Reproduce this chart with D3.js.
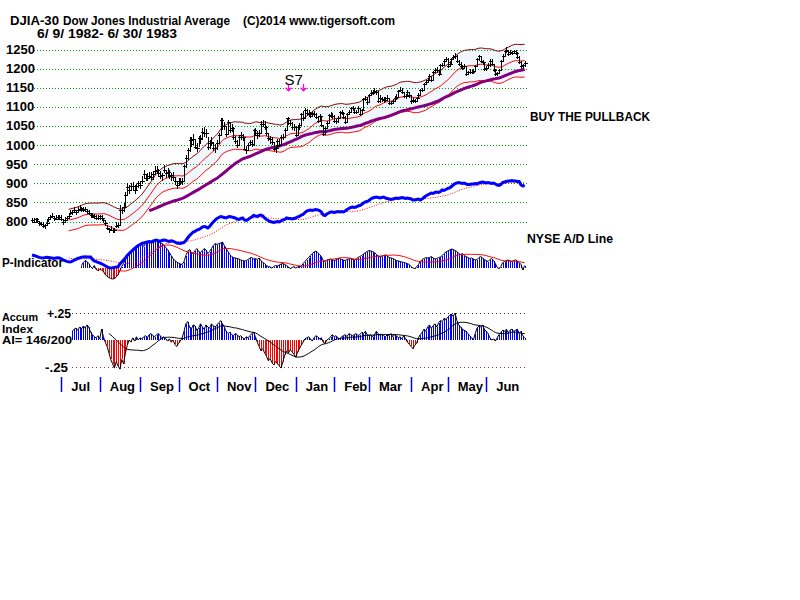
<!DOCTYPE html>
<html><head><meta charset="utf-8">
<script src="https://cdn.jsdelivr.net/npm/d3@7"></script>
<style>body{margin:0;background:#fff}</style>
</head><body>
<svg id="c" width="800" height="600"></svg>
<script>
// ---------- DATA (DJIA daily, 6/9/1982 - 6/30/1983, estimated from chart) ----------
const closes = [
803,800,806,801,797,793,789,791,797,806,812,815,810,807,812,811,
806,800,803,808,815,822,826,829,826,830,833,836,831,833,827,822,818,812,815,809,808,
814,810,803,795,784,780,779,778,777,788,792,831,829,837,869,891,883,892,892,883,892,901,
895,907,925,913,918,920,916,924,932,935,928,920,921,934,928,930,919,922,916,906,896,
907,903,907,944,965,986,1012,1004,1015,996,993,1019,1015,1034,1032,1031,995,1006,1009,993,992,
1006,1027,1065,1051,1051,1028,1060,1039,1045,1021,1011,1000,1021,1027,1021,990,986,1000,1007,1002,1039,
1031,1026,1031,1056,1056,1048,1031,1018,1015,1009,990,991,1011,1001,1021,1020,1039,1070,1058,1059,1046,1047,
1027,1046,1053,1082,1070,1092,1083,1082,1077,1083,1080,1074,1064,1075,1052,1030,1045,1059,1078,1077,1076,
1064,1063,1072,1087,1085,1073,1061,1082,1087,1096,1097,1086,1086,1097,1080,1092,1121,1120,1113,
1130,1135,1138,1141,1138,1114,1124,1120,1117,1119,1122,1110,1110,1116,1124,1126,1141,1145,1140,1129,1128,1139,1130,
1114,1117,1116,1124,1131,1144,1145,1160,1165,1171,1181,1170,1191,1196,1196,1187,1209,1210,1219,1226,
1208,1211,1225,1231,1233,1219,1213,1208,1202,1208,1186,1190,1192,1192,1193,1207,1224,1232,1221,1216,1200,
1201,1210,1221,1213,1196,1185,1188,1196,1219,1234,1246,1248,1239,1244,1240,1245,1241,1231,1217,1206,1209,1214];
const highs = [
809,808,810,810,802,800,799,794,805,812,818,823,814,816,817,818,
816,803,811,814,821,830,830,838,831,837,843,839,839,839,833,830,822,821,820,816,818,
817,818,809,801,792,784,788,783,784,798,795,844,839,848,878,900,896,902,903,896,898,905,
905,920,935,924,926,930,930,932,944,944,938,933,927,948,936,941,935,927,929,916,906,
915,913,914,948,973,992,1021,1020,1028,1012,1005,1025,1027,1045,1047,1041,1020,1014,1022,1006,1003,
1012,1031,1070,1070,1060,1050,1065,1060,1055,1046,1025,1013,1027,1035,1030,1020,997,1006,1013,1013,1042,
1045,1037,1040,1062,1066,1063,1050,1032,1024,1020,1009,1000,1017,1015,1026,1030,1044,1072,1073,1066,1060,1056,
1050,1049,1057,1085,1090,1096,1095,1091,1087,1088,1090,1084,1075,1080,1076,1050,1048,1063,1080,1087,1084,
1079,1069,1076,1090,1093,1087,1075,1085,1092,1100,1103,1097,1091,1102,1098,1095,1124,1128,1125,
1134,1143,1144,1150,1145,1142,1130,1127,1125,1125,1130,1123,1115,1121,1128,1133,1145,1152,1148,1140,1134,1143,1140,
1130,1123,1121,1127,1137,1147,1150,1163,1171,1176,1186,1180,1193,1202,1204,1196,1211,1214,1224,1230,
1228,1216,1228,1236,1240,1235,1222,1216,1210,1212,1204,1194,1198,1196,1198,1210,1227,1236,1233,1223,1215,
1206,1214,1226,1224,1212,1198,1192,1200,1222,1237,1250,1256,1250,1248,1247,1249,1250,1243,1232,1220,1213,1220];
const lows = [
796,795,797,797,789,787,784,781,791,799,805,810,801,803,804,805,
801,790,797,801,808,817,817,825,818,824,828,826,825,826,820,817,809,808,807,803,803,
804,804,796,788,779,771,775,770,771,783,782,790,819,826,836,868,873,880,881,871,879,888,
884,899,911,907,905,910,908,908,922,924,917,912,907,928,915,920,911,906,906,895,885,
895,895,896,906,940,962,983,994,999,989,982,995,1004,1013,1022,1018,988,990,998,985,980,
988,1003,1025,1040,1039,1020,1028,1032,1033,1014,1002,992,997,1014,1011,986,976,985,997,994,998,
1025,1015,1020,1028,1046,1040,1025,1010,1002,1001,984,980,990,996,999,1012,1020,1039,1052,1050,1040,1038,
1021,1024,1040,1053,1064,1070,1078,1074,1070,1075,1073,1068,1058,1063,1047,1025,1028,1042,1058,1070,1068,
1058,1056,1058,1070,1078,1069,1056,1059,1080,1083,1090,1082,1080,1084,1076,1078,1092,1114,1106,
1112,1128,1131,1134,1131,1109,1110,1113,1111,1112,1116,1105,1104,1108,1116,1119,1125,1138,1134,1122,1121,1127,1124,
1108,1110,1110,1113,1121,1130,1139,1143,1157,1163,1170,1164,1168,1189,1188,1180,1187,1203,1207,1218,
1202,1204,1210,1222,1226,1214,1207,1202,1196,1200,1181,1182,1185,1186,1187,1193,1205,1220,1215,1210,1194,
1193,1198,1205,1207,1190,1180,1181,1188,1196,1217,1230,1240,1234,1236,1235,1237,1236,1225,1212,1200,1201,1204];
// NYSE advance/decline line (cumulative, arbitrary base)
const adLine = [
1000,950,900,820,760,720,700,740,780,760,720,690,660,700,720,700,
620,520,430,360,320,300,380,480,560,650,720,780,800,820,790,810,800,560,400,330,260,
200,120,20,-80,-180,-260,-300,-280,-240,-200,-180,100,300,500,700,950,1150,1300,1500,1650,1800,1950,
2050,2150,2200,2250,2300,2350,2300,2380,2450,2500,2420,2380,2450,2500,2480,2400,2350,2420,2380,2300,2200,
2180,2150,2200,2250,2450,2700,2950,3100,3300,3350,3500,3550,3650,3800,3850,3800,3700,3850,4100,4300,4500,
4650,4750,4850,4800,4750,4700,4800,4850,4800,4750,4700,4600,4550,4650,4700,4500,4450,4550,4700,4800,4950,
4900,4850,4950,5000,4900,4700,4550,4450,4350,4300,4250,4300,4350,4300,4400,4500,4550,4700,4650,4650,4600,4650,
4700,4800,4850,5000,5050,5250,5400,5450,5500,5450,5500,5550,5500,5450,5300,5000,4950,5100,5200,5300,5300,
5250,5300,5350,5300,5350,5300,5400,5550,5650,5750,5800,5750,5800,5900,5950,6050,6200,6300,6350,
6450,6600,6700,6750,6800,6750,6700,6750,6800,6700,6650,6600,6550,6600,6650,6700,6650,6700,6750,6700,6650,6700,6650,
6600,6500,6500,6550,6600,6500,6600,6750,6900,7000,7100,7200,7150,7250,7300,7250,7350,7500,7450,7550,
7650,7700,7850,8000,8150,8200,8250,8200,8150,8200,8100,8050,8050,8100,8100,8150,8100,8200,8250,8300,8250,
8200,8250,8200,8150,8200,8100,8000,7950,8050,8250,8300,8350,8400,8400,8450,8400,8400,8350,8350,8000,7900,8000];
const _ = null;
const pIndicator = [
_,_,_,_,_,_,_,_,_,_,_,_,_,_,_,_,
_,_,_,_,_,_,_,_,_,_,_,20,50,70,60,40,10,-10,20,-20,-30,
-20,-25,-40,-70,-90,-100,-110,-115,-110,-95,-70,-30,10,40,80,120,150,165,180,200,190,215,
225,230,210,240,245,250,255,245,260,270,255,250,240,225,200,180,150,120,90,70,55,
45,35,30,60,120,160,180,150,140,170,190,160,150,170,190,175,140,160,190,220,240,
230,240,245,255,220,190,160,130,110,100,95,90,85,75,70,65,70,80,95,100,85,
90,80,95,70,50,40,20,10,5,-5,10,20,15,25,35,40,30,20,5,-10,0,10,
-5,5,15,10,40,60,80,100,120,140,155,165,150,130,110,70,60,75,80,85,80,
70,75,85,90,80,75,70,80,85,90,80,75,85,100,110,120,135,150,160,
170,165,160,150,130,115,105,110,120,125,115,100,95,90,80,70,65,60,55,50,45,40,30,
10,-5,-10,5,30,60,80,90,100,95,100,110,95,85,90,100,105,120,140,155,
165,175,185,180,170,160,140,130,140,120,110,100,90,95,85,75,80,100,110,95,80,
70,60,80,90,70,40,0,-10,10,50,60,70,75,65,60,70,75,65,50,30,-25,20];
const accumIndex = [
_,_,_,_,_,_,_,_,_,_,_,_,_,_,_,_,
_,_,_,_,_,_,0.08,0.10,0.11,0.09,0.12,0.10,0.13,0.11,0.14,0.12,0.07,0.05,0.03,0.02,0.04,
0.01,0.10,0.03,-0.02,-0.06,-0.12,-0.18,-0.22,-0.26,-0.20,-0.24,-0.27,-0.18,-0.22,-0.12,-0.05,0.00,-0.02,0.02,-0.01,0.03,0.00,
0.02,0.01,0.03,0.04,0.02,0.05,0.06,0.04,0.03,0.05,0.06,0.04,0.02,0.03,0.01,-0.01,0.01,-0.02,0.00,-0.04,-0.06,
-0.03,-0.01,0.02,0.08,0.15,0.17,0.12,0.10,0.14,0.13,0.09,0.11,0.15,0.12,0.10,0.14,0.12,0.11,0.15,0.13,0.12,
0.14,0.16,0.18,0.15,0.12,0.08,0.06,0.07,0.05,0.04,0.06,0.05,0.03,0.04,0.02,0.01,0.03,0.02,0.04,0.06,0.07,
0.03,-0.02,-0.06,-0.10,-0.08,-0.12,-0.15,-0.19,-0.17,-0.21,-0.23,-0.20,-0.22,-0.24,-0.26,-0.20,-0.14,-0.10,-0.12,-0.09,-0.11,-0.13,
-0.16,-0.11,-0.08,-0.05,-0.02,0.01,0.02,0.03,0.01,-0.01,0.02,0.04,0.03,0.01,0.02,-0.02,-0.03,0.00,0.01,0.03,0.05,
0.03,0.04,0.02,0.01,0.03,0.04,0.05,0.03,0.06,0.05,0.04,0.05,0.06,0.04,0.05,0.07,0.06,0.08,0.05,
0.04,0.05,0.03,0.05,0.08,0.06,0.04,0.05,0.04,0.03,0.05,0.04,0.06,0.03,0.05,0.04,0.02,0.03,0.01,0.04,0.01,-0.02,-0.04,
-0.06,-0.08,-0.05,-0.03,0.02,0.05,0.07,0.10,0.08,0.12,0.14,0.11,0.13,0.15,0.12,0.16,0.18,0.17,0.20,0.19,
0.21,0.23,0.24,0.22,0.25,0.18,0.14,0.12,0.10,0.09,0.08,0.06,0.04,0.02,0.00,0.06,0.11,0.13,0.12,0.14,0.10,
0.08,0.06,0.02,0.00,0.01,-0.01,0.02,0.05,0.07,0.09,0.08,0.10,0.07,0.09,0.10,0.08,0.09,0.10,0.06,0.08,0.04,0.02];
const priceTicks = [800,850,900,950,1000,1050,1100,1150,1200,1250];
const months = ["Jul","Aug","Sep","Oct","Nov","Dec","Jan","Feb","Mar","Apr","May","Jun"];
const monthStartIdx = [16,37,59,80,101,122,144,165,184,207,227,248];
const signalIdx = [140,148];
const signalLabel = "S7";

// ---------- CHART ----------
const svg = d3.select("#c");
const FONT = "Arial, 'Liberation Sans', Helvetica, sans-serif";
const N = closes.length;
const x = d3.scaleLinear().domain([0, 270]).range([32, 526.5]);
const px = i => Math.round(x(i)) + 0.5;
const yP = d3.scaleLinear().domain([800, 1250]).range([221.5, 49.5]);
const yAD = d3.scaleLinear().domain([0, 10000]).range([265, 165]);
const yPI = d3.scaleLinear().domain([0, 300]).range([267.5, 237.5]);
const yAI = d3.scaleLinear().domain([-0.25, 0.25]).range([367, 313]);

function sma(arr, n) {
  return arr.map((v, i) => {
    if (i < n - 1) return null;
    const s = arr.slice(i - n + 1, i + 1);
    if (s.some(d => d == null)) return null;
    return d3.mean(s);
  });
}
const ma21 = sma(closes, 21);
const ma65 = sma(closes, 65);
const upper = ma21.map(v => v == null ? null : v * 1.035);
const lower = ma21.map(v => v == null ? null : v * 0.965);
const adMA = sma(adLine, 21);
const piMA = sma(pIndicator, 21);
const aiMA = sma(accumIndex, 21);
const idx = d3.range(N);

const lineOf = (arr, ys) => d3.line().defined(i => arr[i] != null).x(i => x(i)).y(i => ys(arr[i]));

// band fill
svg.append("path")
  .attr("d", d3.area().defined(i => ma21[i] != null).x(i => x(i)).y0(i => yP(upper[i])).y1(i => yP(lower[i]))(idx))
  .attr("fill", "#f1f5fc");

// price gridlines
svg.append("g").selectAll("line").data(priceTicks).join("line")
  .attr("x1", 34).attr("x2", 527)
  .attr("y1", d => Math.round(yP(d)) + 0.5).attr("y2", d => Math.round(yP(d)) + 0.5)
  .attr("stroke", "#00a000").attr("stroke-width", 1).attr("stroke-dasharray", "1,2").attr("shape-rendering", "crispEdges");
svg.append("g").selectAll("text").data(priceTicks).join("text")
  .attr("x", 6).attr("y", d => yP(d) + 4.5)
  .attr("font-family", FONT).attr("font-weight", "bold").attr("font-size", 13)
  .text(d => d);

// bands
svg.append("path").attr("d", lineOf(upper, yP)(idx)).attr("fill", "none").attr("stroke", "#800000").attr("stroke-width", 1);
svg.append("path").attr("d", lineOf(ma21, yP)(idx)).attr("fill", "none").attr("stroke", "#ff0000").attr("stroke-width", 1);
svg.append("path").attr("d", lineOf(lower, yP)(idx)).attr("fill", "none").attr("stroke", "#ff0000").attr("stroke-width", 1);
svg.append("path").attr("d", lineOf(ma65, yP)(idx)).attr("fill", "none").attr("stroke", "#800080").attr("stroke-width", 3);

// price bars
const bars = svg.append("g").attr("stroke", "#000").attr("shape-rendering", "crispEdges");
bars.selectAll("line.hl").data(idx).join("line").attr("class", "hl")
  .attr("x1", i => px(i)).attr("x2", i => px(i))
  .attr("y1", i => yP(highs[i])).attr("y2", i => yP(lows[i]));
bars.selectAll("line.cl").data(idx).join("line").attr("class", "cl")
  .attr("x1", i => px(i) - 1.5).attr("x2", i => px(i) + 2)
  .attr("y1", i => Math.round(yP(closes[i])) + 0.5).attr("y2", i => Math.round(yP(closes[i])) + 0.5);

// signals
signalIdx.forEach(s => {
  const sx = Math.round(x(s)) + 0.5, y1 = yP(1160), y2 = yP(1142);
  svg.append("path").attr("d", `M${sx},${y1}L${sx},${y2}M${sx - 3},${y2 - 3}L${sx},${y2}L${sx + 3},${y2 - 3}`)
    .attr("stroke", "#ff00ff").attr("fill", "none").attr("stroke-width", 1.3);
});
svg.append("text").attr("x", x(signalIdx[0]) - 4).attr("y", 85)
  .attr("font-family", FONT).attr("font-size", 15).text(signalLabel);

// P-Indicator histogram
const ph = svg.append("g").attr("shape-rendering", "crispEdges");
ph.selectAll("line").data(idx.filter(i => pIndicator[i] != null)).join("line")
  .attr("x1", i => px(i)).attr("x2", i => px(i))
  .attr("y1", yPI(0)).attr("y2", i => yPI(pIndicator[i]))
  .attr("stroke", i => pIndicator[i] >= 0 ? "#0000ff" : "#ff0000");
svg.append("path").attr("d", lineOf(pIndicator, yPI)(idx)).attr("fill", "none").attr("stroke", "#000").attr("stroke-width", 1);
svg.append("path").attr("d", lineOf(piMA, yPI)(idx)).attr("fill", "none").attr("stroke", "#ff0000").attr("stroke-width", 1);

// A/D line
svg.append("path").attr("d", lineOf(adMA, yAD)(idx)).attr("fill", "none").attr("stroke", "#ff0000").attr("stroke-width", 1).attr("stroke-dasharray", "1,1.5");
svg.append("path").attr("d", lineOf(adLine, yAD)(idx)).attr("fill", "none").attr("stroke", "#0000ff").attr("stroke-width", 3);

// Accum index
svg.append("line").attr("x1", 72).attr("x2", 527).attr("y1", yAI(0.25) + 0.5).attr("y2", yAI(0.25) + 0.5)
  .attr("stroke", "#333").attr("stroke-dasharray", "1,3").attr("shape-rendering", "crispEdges");
svg.append("line").attr("x1", 72).attr("x2", 527).attr("y1", yAI(-0.25) + 0.5).attr("y2", yAI(-0.25) + 0.5)
  .attr("stroke", "#993366").attr("stroke-dasharray", "1,3").attr("shape-rendering", "crispEdges");
const ah = svg.append("g").attr("shape-rendering", "crispEdges");
ah.selectAll("line").data(idx.filter(i => accumIndex[i] != null)).join("line")
  .attr("x1", i => px(i)).attr("x2", i => px(i))
  .attr("y1", yAI(0)).attr("y2", i => yAI(accumIndex[i]))
  .attr("stroke", i => accumIndex[i] >= 0 ? "#0000ff" : "#ff0000");
svg.append("path").attr("d", lineOf(accumIndex, yAI)(idx)).attr("fill", "none").attr("stroke", "#000").attr("stroke-width", 1);
svg.append("path").attr("d", lineOf(aiMA, yAI)(idx)).attr("fill", "none").attr("stroke", "#000").attr("stroke-width", 1);

// month axis
svg.append("g").selectAll("line").data(monthStartIdx).join("line")
  .attr("x1", d => Math.round(x(d)) + 0.5).attr("x2", d => Math.round(x(d)) + 0.5)
  .attr("y1", 377).attr("y2", 392).attr("stroke", "#0000ff").attr("stroke-width", 1.5);
svg.append("g").selectAll("text").data(months).join("text")
  .attr("x", (d, k) => x(monthStartIdx[k]) + 10).attr("y", 391)
  .attr("font-family", FONT).attr("font-weight", "bold").attr("font-size", 13)
  .text(d => d);

// texts
function label(t, xx, yy, size, len, bold = true) {
  const el = svg.append("text").attr("x", xx).attr("y", yy)
    .attr("font-family", FONT).attr("font-size", size)
    .attr("font-weight", bold ? "bold" : "normal").style("white-space", "pre").text(t);
  if (len) el.attr("textLength", len).attr("lengthAdjust", "spacingAndGlyphs");
  return el;
}
label("DJIA-30", 10, 24.5, 12, 49);
label("Dow Jones Industrial Average", 63, 24.5, 12, 167);
label("(C)2014 www.tigersoft.com", 243, 24.5, 12, 152);
label("6/ 9/ 1982- 6/ 30/ 1983", 37, 38, 12, 140);
label("BUY THE PULLBACK", 530, 121, 12, 120);
label("NYSE A/D Line", 527, 243, 12, 86);
label("P-Indicator", 2, 267, 13, 61);
label("Accum", 2, 320.5, 10.5, 36);
label("Index", 2, 332.5, 10.5, 31);
label("AI= 146/200", 2, 344, 10.5, 70);
label("+.25", 47, 318, 12, 24);
label("-.25", 45, 372, 12, 23);
</script>
</body></html>
